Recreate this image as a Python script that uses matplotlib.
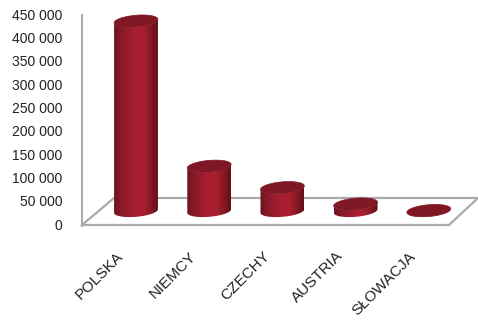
import numpy as np
import matplotlib
matplotlib.use('Agg')
import matplotlib.pyplot as plt
from matplotlib.colors import LinearSegmentedColormap
from matplotlib.patches import Polygon

plt.rcParams['font.family'] = ['Liberation Sans', 'DejaVu Sans']

countries = ['POLSKA', 'NIEMCY', 'CZECHY', 'AUSTRIA', 'SŁOWACJA']
values = [407000, 96000, 50000, 15000, 1000]
ticks = list(range(0, 450001, 50000))

W, H = 478, 322
y_zero = 224        # pixel row of value 0
px_per_val = 210 / 450000.0
base_lift = 13      # cylinders stand on the floor, behind the front edge
x_first, x_step = 136, 73.2
radius, ry = 22, 5.8
tilt = np.deg2rad(5)

def val(row):
    # pixel row -> axis value
    return (y_zero - row) / px_per_val

fig = plt.figure(figsize=(W / 100, H / 100), dpi=100)
ax = fig.add_axes([0, 0, 1, 1])
ax.set_xlim(0, W)
ax.set_ylim(val(H), val(0))
ax.patch.set_alpha(0)

for s in ['top', 'right', 'bottom']:
    ax.spines[s].set_visible(False)
ax.spines['left'].set_position(('data', 82))
ax.spines['left'].set_bounds(val(226), val(15))
ax.spines['left'].set_color('#aaaaaa')
ax.spines['left'].set_linewidth(1.5)
ax.set_xticks([])
ax.set_yticks(ticks)
ax.set_yticklabels([f'{t:,}'.replace(',', ' ') for t in ticks], fontsize=10, color='#222222')
ax.tick_params(axis='y', length=0, pad=14)

# floor of the 3d box
floor_x = [82, 449, 478, 114, 82]
floor_y = [225, 225, 198, 198, 225]
ax.plot(floor_x, [val(r) for r in floor_y], color='#aaaaaa', lw=1.6, solid_joinstyle='miter', zorder=1)

shade = LinearSegmentedColormap.from_list('cyl', [
    (0.0, '#6e1420'), (0.18, '#8a1a29'), (0.5, '#ab2031'), (0.68, '#a81f2f'),
    (0.88, '#7e1621'), (1.0, '#5f0f18')])
grad = np.linspace(0, 1, 128).reshape(1, -1)

def ellipse(cx, cy, t):
    # cy is a pixel row; the ellipse leans up to the right
    ex = radius * np.cos(t)
    ey = ry * np.sin(t)
    xs = cx + ex * np.cos(tilt) + ey * np.sin(tilt)
    rows = cy - ex * np.sin(tilt) + ey * np.cos(tilt)
    return xs, rows

for i, (name, v) in enumerate(zip(countries, values)):
    cx = x_first + i * x_step
    row_base = y_zero - base_lift
    row_top = row_base - v * px_per_val
    # body: lower half of the base ellipse, closed over the top ellipse
    bx, br = ellipse(cx, row_base, np.linspace(np.pi, 0, 60))
    tx, tr = ellipse(cx, row_top, np.linspace(0, np.pi, 60))
    body_xy = np.column_stack([np.r_[bx, tx], [val(r) for r in np.r_[br, tr]]])
    body = Polygon(body_xy, closed=True, fc='none', ec='none')
    ax.add_patch(body)
    im = ax.imshow(grad, cmap=shade, aspect='auto', interpolation='bilinear', zorder=2,
                   extent=[cx - radius, cx + radius, val(row_base + ry + 3), val(row_top - ry - 3)])
    im.set_clip_path(body)
    ex, er = ellipse(cx, row_top, np.linspace(0, 2 * np.pi, 100))
    ax.fill(ex, [val(r) for r in er], color='#7f1824', ec='#7f1824', lw=0.5, zorder=3)
    ax.text(cx - 15, val(254), name, rotation=45, rotation_mode='anchor', ha='right', va='center',
            fontsize=11, color='#222222')

# imshow resets the limits
ax.set_xlim(0, W)
ax.set_ylim(val(H), val(0))

fig.savefig('out.png', dpi=100)
